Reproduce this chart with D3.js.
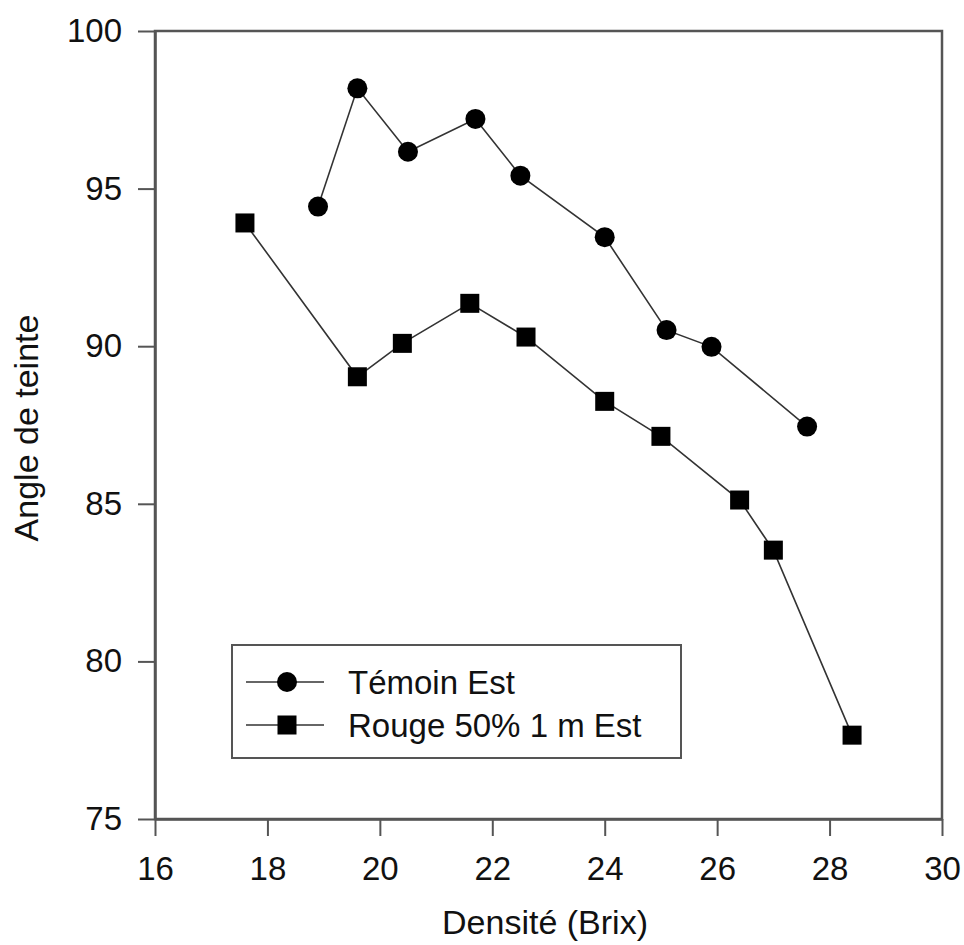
<!DOCTYPE html>
<html>
<head>
<meta charset="utf-8">
<script src="https://cdn.jsdelivr.net/npm/d3@7"></script>
<style>
    body { margin: 0; background: #fff; }
    svg { display: block; font-family: "Liberation Sans", Arial, sans-serif; }
</style>
</head>
<body>
<div id="chart"></div>
<script>

    // Témoin Est (circles)
    var temoinBrix  = [18.9, 19.6, 20.5, 21.7, 22.5, 24.0, 25.1, 25.9, 27.6];
    var temoinAngle = [94.43, 98.18, 96.17, 97.21, 95.41, 93.46, 90.51, 89.98, 87.45];

    // Rouge 50% 1 m Est (squares)
    var rougeBrix  = [17.6, 19.6, 20.4, 21.6, 22.6, 24.0, 25.0, 26.4, 27.0, 28.4];
    var rougeAngle = [93.91, 89.03, 90.09, 91.36, 90.29, 88.25, 87.14, 85.12, 83.53, 77.66];

    var xTicks = [16, 18, 20, 22, 24, 26, 28, 30];
    var yTicks = [75, 80, 85, 90, 95, 100];

    var seriesNames = ["Témoin Est", "Rouge 50% 1 m Est"];

(function() {

    var w = 964, h = 945;
    var padLeft = 155, padRight = 942, padTop = 31, padBottom = 819;

    var temoin = temoinBrix.map(function(d, i) { return {x: d, y: temoinAngle[i]}; });
    var rouge = rougeBrix.map(function(d, i) { return {x: d, y: rougeAngle[i]}; });

    var xScale = d3.scaleLinear().domain([16, 30]).range([padLeft, padRight]);
    var yScale = d3.scaleLinear().domain([75, 100]).range([padBottom, padTop]);

    var svg = d3.select("#chart").append("svg")
        .attr("width", w)
        .attr("height", h);

    var axisColor = "#555";

    // frame
    svg.append("rect")
        .attr("x", padLeft)
        .attr("y", padTop)
        .attr("width", padRight - padLeft)
        .attr("height", padBottom - padTop)
        .style("fill", "none")
        .style("stroke", axisColor)
        .style("stroke-width", 2.5);

    var xAxis = svg.append("g")
        .attr("transform", "translate(0," + padBottom + ")")
        .call(d3.axisBottom(xScale).tickValues(xTicks).tickSize(17).tickPadding(21).tickSizeOuter(0));

    var yAxis = svg.append("g")
        .attr("transform", "translate(" + padLeft + ",0)")
        .call(d3.axisLeft(yScale).tickValues(yTicks).tickSize(17).tickPadding(16).tickSizeOuter(0));

    [xAxis, yAxis].forEach(function(a) {
        a.select(".domain").style("stroke", axisColor).style("stroke-width", 2.5);
        a.selectAll(".tick line").style("stroke", axisColor).style("stroke-width", 2);
        a.selectAll(".tick text")
            .style("font-size", "33px")
            .style("fill", "#111")
            .style("font-family", "'Liberation Sans', Arial, sans-serif");
    });

    // axis titles
    svg.append("text")
        .attr("x", 545)
        .attr("y", 934)
        .attr("text-anchor", "middle")
        .style("font-size", "34px")
        .style("fill", "#111")
        .text("Densité (Brix)");

    svg.append("text")
        .attr("transform", "translate(38," + 428 + ") rotate(-90)")
        .attr("text-anchor", "middle")
        .style("font-size", "34px")
        .style("fill", "#111")
        .text("Angle de teinte");

    var line = d3.line()
        .x(function(d) { return xScale(d.x); })
        .y(function(d) { return yScale(d.y); });

    [temoin, rouge].forEach(function(s) {
        svg.append("path")
            .datum(s)
            .attr("d", line)
            .style("fill", "none")
            .style("stroke", "#333")
            .style("stroke-width", 1.6);
    });

    var sq = 19;

    svg.selectAll("circle.temoin")
        .data(temoin)
        .enter().append("circle")
        .attr("class", "temoin")
        .attr("cx", function(d) { return xScale(d.x); })
        .attr("cy", function(d) { return yScale(d.y); })
        .attr("r", 10)
        .style("fill", "#000");

    svg.selectAll("rect.rouge")
        .data(rouge)
        .enter().append("rect")
        .attr("class", "rouge")
        .attr("x", function(d) { return xScale(d.x) - sq / 2; })
        .attr("y", function(d) { return yScale(d.y) - sq / 2; })
        .attr("width", sq)
        .attr("height", sq)
        .style("fill", "#000");

    // legend
    var legend = svg.append("g");

    legend.append("rect")
        .attr("x", 232)
        .attr("y", 645)
        .attr("width", 449)
        .attr("height", 113)
        .style("fill", "#fff")
        .style("stroke", axisColor)
        .style("stroke-width", 2);

    var rows = [682, 725];

    rows.forEach(function(ry, i) {
        legend.append("line")
            .attr("x1", 246).attr("x2", 324)
            .attr("y1", ry).attr("y2", ry)
            .style("stroke", "#333")
            .style("stroke-width", 1.6);

        if (i === 0) {
            legend.append("circle")
                .attr("cx", 287).attr("cy", ry).attr("r", 10)
                .style("fill", "#000");
        } else {
            legend.append("rect")
                .attr("x", 287 - sq / 2).attr("y", ry - sq / 2)
                .attr("width", sq).attr("height", sq)
                .style("fill", "#000");
        }

        legend.append("text")
            .attr("x", 348)
            .attr("y", ry + 12)
            .style("font-size", "33px")
            .style("fill", "#111")
            .text(seriesNames[i]);
    });

})();

</script>
</body>
</html>
